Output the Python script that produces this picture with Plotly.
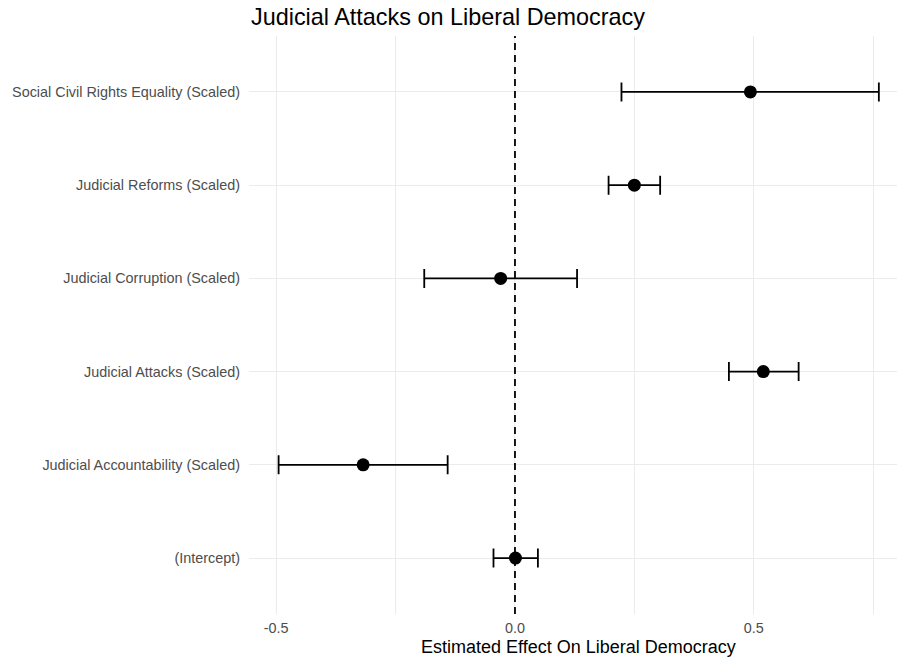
import plotly.graph_objects as go

terms = [
    "(Intercept)",
    "Judicial Accountability (Scaled)",
    "Judicial Attacks (Scaled)",
    "Judicial Corruption (Scaled)",
    "Judicial Reforms (Scaled)",
    "Social Civil Rights Equality (Scaled)",
]
estimates = [0.001, -0.318, 0.520, -0.030, 0.250, 0.493]
conf_low = [-0.045, -0.495, 0.448, -0.190, 0.196, 0.223]
conf_high = [0.048, -0.141, 0.594, 0.130, 0.304, 0.762]

err_plus = [h - e for h, e in zip(conf_high, estimates)]
err_minus = [e - l for e, l in zip(estimates, conf_low)]

FONT = "Liberation Sans, Arial, sans-serif"
GRID = "#ebebeb"

fig = go.Figure()
fig.add_trace(go.Scatter(
    x=estimates, y=terms, mode="markers",
    marker=dict(color="black", size=13),
    error_x=dict(type="data", array=err_plus, arrayminus=err_minus,
                 color="black", thickness=1.8, width=9.5),
    showlegend=False,
))

fig.add_vline(x=0, line=dict(color="black", width=1.8, dash="7px,5px"))

fig.update_layout(
    width=897, height=657,
    margin=dict(l=249, r=0, t=36, b=43),
    paper_bgcolor="white", plot_bgcolor="white",
    font=dict(family=FONT, color="#4d4d4d", size=14.4),
    xaxis=dict(range=[-0.557, 0.80],
               tickvals=[-0.5, 0, 0.5], ticktext=["-0.5", "0.0", "0.5"],
               showgrid=True, gridcolor=GRID, gridwidth=1.4,
               minor=dict(tickvals=[-0.25, 0.25, 0.75], showgrid=True,
                          gridcolor=GRID, gridwidth=1.4),
               zeroline=False, showline=False, ticks="",
               ticklabelstandoff=4,
               tickfont=dict(size=14.4, color="#4d4d4d")),
    yaxis=dict(type="category", categoryorder="array", categoryarray=terms,
               range=[-0.6, 5.6], showgrid=True, gridcolor=GRID, gridwidth=1.4,
               zeroline=False, showline=False, ticks="",
               ticklabelstandoff=8,
               tickfont=dict(size=14.4, color="#4d4d4d")),
    annotations=[
        dict(text="Judicial Attacks on Liberal Democracy",
             xref="paper", yref="paper", x=0, y=1 + (36 - 17) / 578,
             xanchor="left", yanchor="middle", showarrow=False,
             font=dict(family=FONT, size=23.4, color="black")),
        dict(text="Estimated Effect On Liberal Democracy",
             xref="paper", yref="paper", x=0.5 + 5 / 648, y=-33 / 578,
             xanchor="center", yanchor="middle", showarrow=False,
             font=dict(family=FONT, size=18, color="black")),
    ],
)

fig.write_html("out.html", config={"displayModeBar": False},
               post_script="document.body.style.margin='0';document.body.style.padding='0';")
